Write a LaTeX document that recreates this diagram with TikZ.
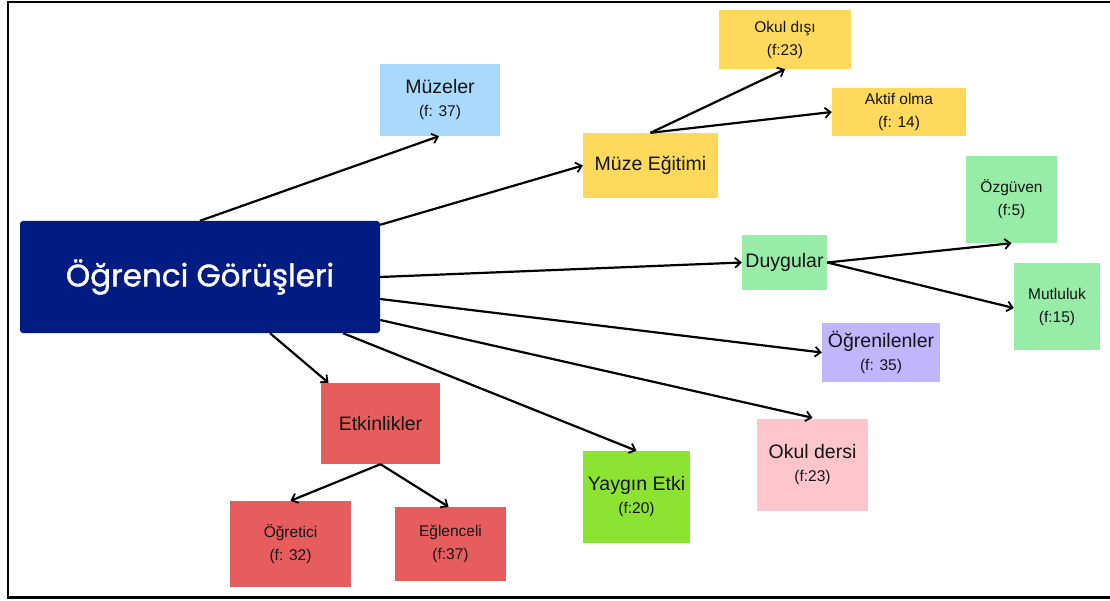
\documentclass[tikz,border=0pt]{standalone}
\usepackage{fontspec}
\setmainfont{Liberation Sans}
\newfontfamily\titlefont[FakeBold=1.2]{Poppins}
\usetikzlibrary{arrows.meta}
\definecolor{navy}{HTML}{001C82}
\definecolor{cblue}{HTML}{A9D9FC}
\definecolor{cyellow}{HTML}{FFD95C}
\definecolor{cgreen}{HTML}{97ECA8}
\definecolor{cpurple}{HTML}{C1B5FD}
\definecolor{cpink}{HTML}{FEC5CD}
\definecolor{clime}{HTML}{8CE332}
\definecolor{cred}{HTML}{E75D5E}
\definecolor{ctext}{HTML}{141414}
\newcommand{\lblbig}{\fontsize{19.5}{23}\selectfont}
\newcommand{\lblsmall}{\fontsize{15.5}{23}\selectfont}
\tikzset{
  box/.style={inner sep=0pt, align=center, text=ctext, font=\lblsmall},
  conn/.style={draw=black, line width=2.2pt, -{Straight Barb[length=5.5pt,width=10pt,line width=1.8pt]}}
}
\begin{document}
\begin{tikzpicture}[x=1pt,y=-1pt]
\useasboundingbox (0,0) rectangle (1110,601);
% frame
\draw[line width=2.5pt, black] (1112,2) -- (8,2) -- (8,597.5) -- (1112,597.5);
% nodes
\node[box, fill=navy, rounded corners=3pt, minimum width=360pt, minimum height=112pt, text=white, font=\titlefont\fontsize{31}{36}\selectfont] (main) at (200,277) {Öğrenci Görüşleri};
\node[box, fill=cblue, minimum width=120pt, minimum height=72pt] (muzeler) at (440,100) {\lblbig Müzeler\\\lblsmall (f: 37)};
\node[box, fill=cyellow, minimum width=135pt, minimum height=65pt, font=\lblbig] (egitim) at (650.5,165.5) {Müze Eğitimi};
\node[box, fill=cyellow, minimum width=132pt, minimum height=59pt] (okuldisi) at (785,39.5) {Okul dışı\\(f:23)};
\node[box, fill=cyellow, minimum width=134pt, minimum height=48pt] (aktif) at (899,112) {Aktif olma\\(f: 14)};
\node[box, fill=cgreen, minimum width=91pt, minimum height=87pt] (ozguven) at (1011.5,199.5) {Özgüven\\(f:5)};
\node[box, fill=cgreen, minimum width=85pt, minimum height=55pt, font=\lblbig] (duygular) at (784.5,262.5) {Duygular};
\node[box, fill=cgreen, minimum width=86pt, minimum height=87pt] (mutluluk) at (1057,306.5) {Mutluluk\\(f:15)};
\node[box, fill=cpurple, minimum width=118pt, minimum height=59pt] (ogrenilen) at (881,352.5) {\lblbig Öğrenilenler\\\lblsmall (f: 35)};
\node[box, fill=cpink, minimum width=111pt, minimum height=92pt] (okuldersi) at (812.5,465) {\lblbig Okul dersi\\\lblsmall (f:23)};
\node[box, fill=clime, minimum width=107pt, minimum height=92pt] (yaygin) at (636.5,497) {\lblbig Yaygın Etki\\\lblsmall (f:20)};
\node[box, fill=cred, minimum width=119pt, minimum height=81pt, font=\lblbig] (etkinlik) at (380.5,423.5) {Etkinlikler};
\node[box, fill=cred, minimum width=121pt, minimum height=86pt] (ogretici) at (290.5,544) {Öğretici\\(f: 32)};
\node[box, fill=cred, minimum width=111pt, minimum height=74pt] (eglenceli) at (450.5,544) {Eğlenceli\\(f:37)};
% connectors
\draw[conn] (main.north) -- ([xshift=-1pt]muzeler.south);
\draw[conn] ([yshift=-4pt]main.north east) -- (egitim.west);
\draw[conn] (main.east) -- (duygular.west);
\draw[conn] ([yshift=-22pt]main.east) -- (ogrenilen.west);
\draw[conn] ([yshift=-43pt]main.east) -- ([yshift=1pt]okuldersi.north);
\draw[conn] ([xshift=143pt]main.south) -- (yaygin.north);
\draw[conn] ([xshift=70pt]main.south) -- ([xshift=-52pt]etkinlik.north);
\draw[conn] (etkinlik.south) -- (ogretici.north);
\draw[conn] (etkinlik.south) -- ([xshift=-2pt]eglenceli.north);
\draw[conn] (egitim.north) -- (okuldisi.south);
\draw[conn] (egitim.north) -- (aktif.west);
\draw[conn] (duygular.east) -- (ozguven.south);
\draw[conn] (duygular.east) -- ([yshift=-1.5pt]mutluluk.west);
\end{tikzpicture}
\end{document}
